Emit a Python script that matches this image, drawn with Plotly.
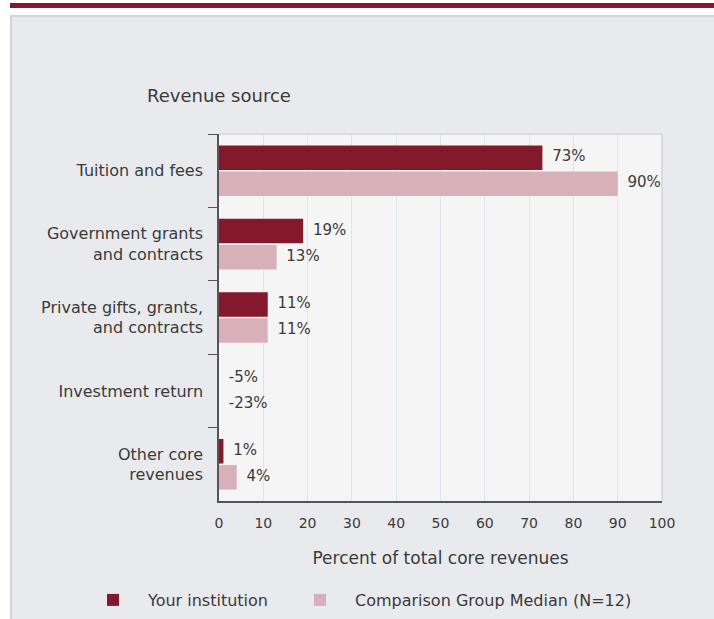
import plotly.graph_objects as go

categories = [
    "Tuition and fees",
    "Government grants<br>and contracts",
    "Private gifts, grants,<br>and contracts",
    "Investment return",
    "Other core<br>revenues",
]
your_institution = [73, 19, 11, -5, 1]
comparison_median = [90, 13, 11, -23, 4]
series_names = ["Your institution", "Comparison Group Median (N=12)"]
x_tick_values = [0, 10, 20, 30, 40, 50, 60, 70, 80, 90, 100]

DARK = "#85192c"
LIGHT = "#d8b1b8"
TEXT = "#3a3a3a"
FONT = "DejaVu Sans"

W, H = 714, 619
L, R, T, B = 219, 52, 134, 118
PW, PH = W - L - R, H - T - B


def px(xp):
    return (xp - L) / PW


def py(yp):
    return (H - B - yp) / PH


fig = go.Figure()
series = [(series_names[0], your_institution, DARK, "a", "legend"),
          (series_names[1], comparison_median, LIGHT, "b", "legend2")]
for name, vals, color, grp, leg in series:
    fig.add_trace(go.Bar(
        y=categories, x=vals, orientation="h", name=name,
        marker=dict(color=color, line=dict(width=0)),
        offsetgroup=grp, hoverinfo="skip", legend=leg,
    ))
for name, vals, color, grp, leg in series:
    fig.add_trace(go.Scatter(
        y=categories, x=[max(v, 0) for v in vals], mode="markers+text",
        marker=dict(size=14, opacity=0),
        text=[f"{v}%" for v in vals], textposition="middle right",
        textfont=dict(family=FONT, size=15, color=TEXT),
        orientation="h", offsetgroup=grp, showlegend=False,
        cliponaxis=False, hoverinfo="skip",
    ))

shapes = [
    dict(type="rect", xref="paper", yref="paper", x0=px(0), x1=px(W), y0=py(0), y1=py(15),
         fillcolor="white", line=dict(width=0), layer="below"),
    dict(type="rect", xref="paper", yref="paper", x0=px(0), x1=px(10), y0=py(0), y1=py(H),
         fillcolor="white", line=dict(width=0), layer="below"),
    dict(type="rect", xref="paper", yref="paper", x0=px(10), x1=px(W), y0=py(3), y1=py(8),
         fillcolor=DARK, line=dict(width=0), layer="below"),
    dict(type="line", xref="paper", yref="paper", x0=px(10), x1=px(W), y0=py(16), y1=py(16),
         line=dict(color="#d4d4d4", width=2), layer="below"),
    dict(type="line", xref="paper", yref="paper", x0=px(11), x1=px(11), y0=py(15), y1=py(H),
         line=dict(color="#d4d4d4", width=2), layer="below"),
    dict(type="line", xref="paper", yref="paper", x0=0, x1=1, y0=1, y1=1,
         line=dict(color="#dcdcdc", width=2)),
    dict(type="line", xref="paper", yref="paper", x0=1, x1=1, y0=0, y1=1,
         line=dict(color="#dcdcdc", width=2)),
]

legend_common = dict(
    orientation="h", xanchor="left", yanchor="middle", itemwidth=60,
    bgcolor="rgba(0,0,0,0)", font=dict(family=FONT, size=16, color=TEXT),
)

fig.update_layout(
    width=W, height=H,
    margin=dict(l=L, r=R, t=T, b=B, pad=0, autoexpand=False),
    paper_bgcolor="#e9eaee",
    plot_bgcolor="#f5f5f5",
    barmode="group",
    bargap=0.29,
    bargroupgap=0.06,
    scattermode="group",
    scattergap=0.29,
    font=dict(family=FONT, size=16, color=TEXT),
    shapes=shapes,
    showlegend=True,
    legend=dict(x=px(78), y=py(600), **legend_common),
    legend2=dict(x=px(285), y=py(600), **legend_common),
    annotations=[
        dict(text="Revenue source", xref="paper", yref="paper", x=0, y=py(95),
             xanchor="center", yanchor="middle", showarrow=False,
             font=dict(family=FONT, size=18, color=TEXT)),
    ],
    xaxis=dict(
        range=[0, 100], tickvals=x_tick_values, showgrid=True, gridcolor="#dfe5ef",
        gridwidth=1, zeroline=False, showline=True, linecolor="#555555", linewidth=1.5,
        ticks="outside", ticklen=8, tickcolor="rgba(0,0,0,0)",
        tickfont=dict(family=FONT, size=14, color=TEXT),
        title=dict(text="Percent of total core revenues", standoff=23,
                   font=dict(family=FONT, size=17, color=TEXT)),
        fixedrange=True,
    ),
    yaxis=dict(
        type="category", categoryorder="array", categoryarray=categories,
        autorange="reversed", showgrid=False, zeroline=False,
        showline=True, linecolor="#555555", linewidth=1.5,
        ticks="outside", tickson="boundaries", ticklen=9, tickcolor="#555555",
        ticklabelstandoff=11,
        tickfont=dict(family=FONT, size=16, color=TEXT),
        fixedrange=True,
    ),
)

fig.write_html(
    "out.html",
    config={"displayModeBar": False},
    post_script="document.body.style.margin='0';document.body.style.overflow='hidden';",
)
